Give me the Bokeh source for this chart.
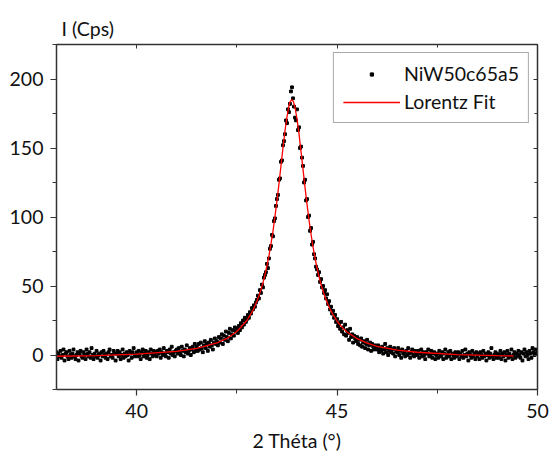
import numpy as np
from bokeh.plotting import figure
from bokeh.models import Range1d, LinearAxis, Legend, LegendItem, FixedTicker
from bokeh.embed import file_html
from bokeh.resources import INLINE

# ---- data ----
theta_start = 38.0
theta_step = 0.025
counts = [
    2, -3, 1, -1, 3, -2, 0, 4, -4, 1, 2, -1, -3, 3, 0, -2, 1, 4, -1, -3,
    0, 2, -4, 1, 3, -1, -2, 2, 0, -3, 4, 1, -1, 2, -2, 5, 0, -3, 1, -1,
    3, -2, 0, 1, -4, 2, -1, 3, 0, -2, 1, -3, 2, 4, -1, 0, -2, 3, 1, -4,
    1, 3, -1, 2, -3, 0, 4, -2, 1, -1, 2, 0, -4, 3, 1, -2, 2, 5, -1, 0,
    2, -1, 3, 0, -3, 2, 4, -1, 1, 3, -2, 0, 2, -3, 4, 1, -1, 3, 0, 2,
    -1, 3, 1, 4, -2, 2, 0, 5, 1, -1, 3, 2, -2, 4, 1, 6, 0, 2, -1, 3,
    4, 1, 5, 2, 0, 6, 3, -1, 4, 2, 7, 1, 3, 5, 0, 4, 6, 2, 8, 3,
    6, 3, 8, 4, 9, 5, 2, 7, 10, 5, 8, 3, 9, 6, 11, 7, 4, 9, 12, 8,
    10, 7, 13, 9, 12, 15, 8, 14, 11, 17, 13, 10, 16, 19, 12, 15, 18, 14, 20, 17,
    19, 16, 21, 18, 23, 20, 25, 22, 27, 24, 26, 29, 27, 31, 30, 34, 33, 36, 35, 38,
    40, 43, 41, 47, 45, 51, 49, 56, 58, 60, 66, 63, 70, 77, 79, 87, 86, 97, 99, 108,
    113, 116, 127, 128, 140, 141, 152, 155, 160, 170, 168, 178, 176, 182, 191, 194, 186, 180, 172, 170,
    178, 163, 165, 150, 151, 143, 137, 125, 127, 112, 113, 100, 101, 90, 92, 80, 82, 73, 70, 64,
    62, 58, 60, 53, 55, 49, 50, 45, 47, 41, 44, 37, 39, 33, 35, 30, 32, 27, 29, 24,
    26, 21, 23, 19, 24, 17, 20, 15, 22, 14, 18, 16, 11, 19, 13, 15, 9, 14, 12, 10,
    13, 8, 11, 7, 12, 6, 9, 10, 5, 8, 11, 4, 7, 9, 3, 8, 6, 4, 7, 5,
    4, 7, 2, 5, 3, 6, 1, 4, 8, 2, 5, 0, 3, 6, 2, 4, 1, 5, -1, 3,
    2, 5, 0, 3, -2, 4, 1, 2, -1, 3, 0, 5, 1, -2, 2, 4, 0, -1, 3, 1,
    0, 3, -2, 1, 4, -1, 2, 0, -3, 2, 1, 4, -1, 0, 3, -2, 1, 2, -3, 0,
    1, -2, 3, 0, -1, 2, -3, 1, 4, -2, 0, 2, -1, 3, -3, 1, 0, -2, 2, -1,
    0, 2, -3, 1, -1, 3, -2, 0, 4, -1, 1, -4, 2, 0, -2, 3, -1, 1, -3, 2,
    -1, 1, -3, 2, 0, -2, 3, -1, 1, -4, 0, 2, -2, 1, 5, -1, -3, 0, 2, -2,
    1, -2, 0, 3, -3, 1, -1, 2, -4, 0, 3, -2, 1, -1, 4, -3, 0, 2, -2, 1,
    -1, 3, 0, -2, 2, -4, 1, 4, -1, 2, 0, -3, 3, 1, -2, 5, 2, 0, 4, 1,
    3,
]
theta = np.round(theta_start + theta_step * np.arange(len(counts)), 3)

fit_theta = [38.0, 39.0, 40.0, 41.0, 41.5, 42.0, 42.25, 42.5, 42.75, 42.9, 43.0, 43.05,
             43.1, 43.15, 43.2, 43.25, 43.3, 43.35, 43.4, 43.45, 43.5, 43.55, 43.6,
             43.65, 43.7, 43.75, 43.8, 43.83, 43.87, 43.91, 43.95, 44.0, 44.05, 44.1,
             44.15, 44.2, 44.25, 44.3, 44.35, 44.4, 44.45, 44.5, 44.55, 44.6, 44.65,
             44.7, 44.8, 44.9, 45.0, 45.1, 45.25, 45.5, 45.75, 46.0, 46.5, 47.0, 48.0,
             49.0, 49.4]
fit_counts = [-0.9, -0.4, 0.6, 2.7, 4.8, 8.7, 12.0, 17.0, 25.0, 32.3, 38.9, 43.0,
              47.2, 52.2, 57.9, 64.5, 71.8, 80.5, 89.5, 100.5, 111.6, 124.0, 137.1,
              150.0, 162.5, 172.5, 180.8, 183.6, 185.0, 183.6, 179.5, 171.2, 160.2, 147.6,
              134.5, 121.5, 109.2, 97.8, 87.5, 78.4, 70.2, 63.0, 56.7, 51.1, 46.3,
              42.0, 34.8, 29.1, 24.6, 20.9, 16.7, 11.8, 8.6, 6.3, 3.6, 2.0, 0.3,
              -0.5, -0.7]

x_major = [40, 45, 50]
x_minor = [42.5, 47.5]
y_major = [0, 50, 100, 150, 200]
y_minor = [-25, 25, 75, 125, 175, 225]

FONT = "Lato"
FS = "19.5px"
AX = "#333333"
TXT = "#111111"

p = figure(width=549, height=461, x_range=Range1d(38, 50), y_range=Range1d(-25, 225),
           output_backend="svg", toolbar_location=None,
           min_border_left=56, min_border_right=12, min_border_top=44, min_border_bottom=72)
p.xgrid.visible = False
p.ygrid.visible = False
p.outline_line_color = AX
p.background_fill_color = "white"
p.border_fill_color = "white"

xt = FixedTicker(ticks=x_major, minor_ticks=x_minor)
yt = FixedTicker(ticks=y_major, minor_ticks=y_minor)

p.xaxis.ticker = xt
p.yaxis.ticker = yt
for ax in (p.xaxis[0], p.yaxis[0]):
    ax.axis_line_color = AX
    ax.axis_line_width = 1.5
    ax.major_tick_line_color = AX
    ax.minor_tick_line_color = AX
    ax.major_tick_line_width = 1.2
    ax.major_tick_out = 6
    ax.major_tick_in = 0
    ax.minor_tick_out = 4
    ax.minor_tick_in = 0
    ax.major_label_text_font = FONT
    ax.major_label_text_font_size = FS
    ax.major_label_text_color = TXT
    ax.major_label_standoff = 7

p.xaxis.major_label_standoff = 8
p.xaxis.axis_label = "2 Théta (°)"
p.xaxis.axis_label_text_font = FONT
p.xaxis.axis_label_text_font_size = FS
p.xaxis.axis_label_text_font_style = "normal"
p.xaxis.axis_label_text_color = TXT
p.xaxis.axis_label_standoff = 8

# mirrored axes with inward ticks
top = LinearAxis(ticker=xt, major_tick_in=4, major_tick_out=0, minor_tick_in=3, minor_tick_out=0,
                 major_label_text_font_size="1px", major_label_text_color=None, major_label_standoff=0,
                 axis_line_color=AX, axis_line_width=1.5, major_tick_line_color=AX, minor_tick_line_color=AX)
right = LinearAxis(ticker=yt, major_tick_in=4, major_tick_out=0, minor_tick_in=3, minor_tick_out=0,
                   major_label_text_font_size="1px", major_label_text_color=None, major_label_standoff=0,
                   axis_line_color=AX, axis_line_width=1.5, major_tick_line_color=AX, minor_tick_line_color=AX)
p.add_layout(top, "above")
p.add_layout(right, "right")

p.title.text = "I (Cps)"
p.title.text_font = FONT
p.title.text_font_size = FS
p.title.text_font_style = "normal"
p.title.text_color = TXT
p.title.align = "left"
p.title.offset = 5
p.title.standoff = 9

sc = p.scatter(theta, counts, marker="square", size=2.8, color="black")
ln = p.line(fit_theta, fit_counts, color="#ff0000", line_width=1.3)

legend = Legend(items=[LegendItem(label="NiW50c65a5", renderers=[sc]),
                       LegendItem(label="Lorentz Fit", renderers=[ln])],
                location="top_right")
legend.label_text_font = FONT
legend.label_text_font_size = FS
legend.label_text_color = TXT
legend.glyph_width = 57
legend.glyph_height = 8
legend.label_standoff = 4
legend.padding = 9
legend.spacing = 5
legend.margin = 8
legend.border_line_color = "#555555"
legend.border_line_width = 1
legend.background_fill_alpha = 1
p.add_layout(legend)

open("out.html", "w").write(file_html(p, INLINE))
